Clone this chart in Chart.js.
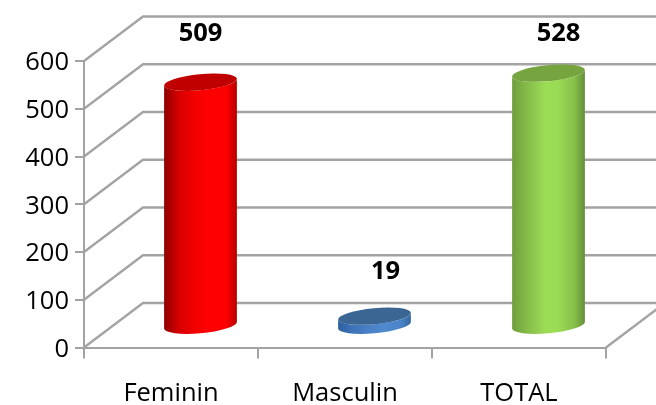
<!DOCTYPE html>
<html>
<head>
<meta charset="utf-8">
<style>html,body{margin:0;padding:0;background:#fff}canvas{display:block}</style>
<script src="https://cdn.jsdelivr.net/npm/chart.js@4/dist/chart.umd.js"></script>
</head>
<body>
<canvas id="c" width="656" height="405"></canvas>
<script>
const categories = ['Feminin', 'Masculin', 'TOTAL'];
const counts = [509, 19, 528];
const tickStep = 100;
const tickMax = 600;

// Per-bar shading, left to right across the body, and the top face
const redShade = ['#8c0000', '#d60000', '#f60000', '#ff0000', '#ff0000', '#b40000'];
const blueShade = ['#2c5f9e', '#3d74b8', '#4b82c8', '#5089cf', '#4c84c8', '#34689f'];
const greenShade = ['#6f9e3d', '#85ba49', '#9bdc55', '#9bdc55', '#88c04b', '#648f38'];
const bodyShades = [redShade, blueShade, greenShade];
const shadeStops = [0, 0.2, 0.45, 0.62, 0.85, 1];
const topColors = ['#c00000', '#3b6593', '#76a53f'];

// Value captions sit by hand above each cylinder, so each has its own shift
const captionShiftX = [0, 11, 10];
const captionShiftY = [-48.5, -44.5, -39.5];

const GRID = '#a3a3a3';
const FONT = '"Open Sans", sans-serif';
const DEPTH_X = 59, DEPTH_Y = 44.5;
const TILT = -0.095, CAP_RY = 8;

// A bar drawn as a cylinder standing in the middle of the floor's depth
class CylinderElement extends Chart.BarElement {
  draw(ctx) {
    const i = this.$context.dataIndex;
    const cx = this.x + DEPTH_X / 2;
    const yTop = this.y - DEPTH_Y / 2;
    const yBase = this.base - DEPTH_Y / 2 + 1;
    const rx = this.width / 2;
    const t0 = Math.atan2(-CAP_RY * Math.sin(TILT), rx * Math.cos(TILT));

    ctx.save();
    const g = ctx.createLinearGradient(cx - rx, 0, cx + rx, 0);
    bodyShades[i].forEach((c, k) => g.addColorStop(shadeStops[k], c));
    ctx.fillStyle = g;
    ctx.beginPath();
    ctx.ellipse(cx, yBase, rx, CAP_RY, TILT, t0, t0 + Math.PI);
    ctx.ellipse(cx, yTop, rx, CAP_RY, TILT, t0 + Math.PI, t0, true);
    ctx.closePath();
    ctx.fill();

    ctx.fillStyle = topColors[i];
    ctx.beginPath();
    ctx.ellipse(cx, yTop, rx, CAP_RY, TILT, 0, Math.PI * 2);
    ctx.fill();
    ctx.restore();
  }
}
CylinderElement.id = 'cylinder';

class CylinderController extends Chart.BarController {}
CylinderController.id = 'cylinderBar';
CylinderController.defaults = Object.assign({}, Chart.BarController.defaults, { dataElementType: 'cylinder' });
CylinderController.overrides = Chart.BarController.overrides;

Chart.register(CylinderElement, CylinderController);

// Side wall, back wall and floor edge of the 3D box
const boxWalls = {
  id: 'boxWalls',
  beforeDatasetsDraw(chart) {
    const { ctx, scales: { x, y } } = chart;
    ctx.save();
    ctx.strokeStyle = GRID;
    ctx.lineWidth = 2.3;
    y.ticks.forEach(t => {
      const py = y.getPixelForValue(t.value);
      ctx.beginPath();
      ctx.moveTo(x.left, py);
      ctx.lineTo(x.left + DEPTH_X, py - DEPTH_Y);
      ctx.lineTo(chart.width + 2, py - DEPTH_Y);
      ctx.stroke();
    });
    ctx.beginPath();
    ctx.moveTo(x.right, y.bottom);
    ctx.lineTo(x.right + DEPTH_X, y.bottom - DEPTH_Y);
    ctx.stroke();
    ctx.restore();
  }
};

// Bold value captions
const valueCaptions = {
  id: 'valueCaptions',
  afterDatasetsDraw(chart) {
    const { ctx } = chart;
    ctx.save();
    ctx.font = 'bold 25.5px ' + FONT;
    ctx.fillStyle = '#000';
    ctx.textAlign = 'center';
    ctx.textBaseline = 'middle';
    chart.getDatasetMeta(0).data.forEach((bar, i) => {
      const px = bar.x + DEPTH_X / 2 + captionShiftX[i];
      const py = bar.y - DEPTH_Y / 2 + captionShiftY[i];
      ctx.fillText(String(counts[i]), px, py);
    });
    ctx.restore();
  }
};

new Chart(document.getElementById('c'), {
  type: 'cylinderBar',
  data: {
    labels: categories,
    datasets: [{
      data: counts,
      backgroundColor: topColors,
      categoryPercentage: 1,
      barPercentage: 0.42
    }]
  },
  options: {
    responsive: false,
    animation: false,
    layout: { padding: { top: 61, right: 50, left: 0, bottom: 0 } },
    plugins: { legend: { display: false }, tooltip: { enabled: false }, title: { display: false } },
    scales: {
      x: {
        type: 'category',
        afterFit(s) { s.height = 57.5; },
        border: { color: GRID, width: 2 },
        grid: { drawOnChartArea: false, drawTicks: true, tickLength: 11, color: GRID, lineWidth: 2, offset: true },
        ticks: { color: '#000', font: { family: FONT, size: 25.5 }, padding: 20, maxRotation: 0, autoSkip: false }
      },
      y: {
        min: 0,
        max: tickMax,
        afterFit(s) { s.width = 84; },
        border: { color: GRID, width: 2 },
        grid: { drawOnChartArea: false, drawTicks: true, tickLength: 9, color: GRID, lineWidth: 2 },
        ticks: { stepSize: tickStep, color: '#000', font: { family: FONT, size: 25.5 }, padding: 6, labelOffset: 2 }
      }
    }
  },
  plugins: [boxWalls, valueCaptions]
});
</script>
</body>
</html>
